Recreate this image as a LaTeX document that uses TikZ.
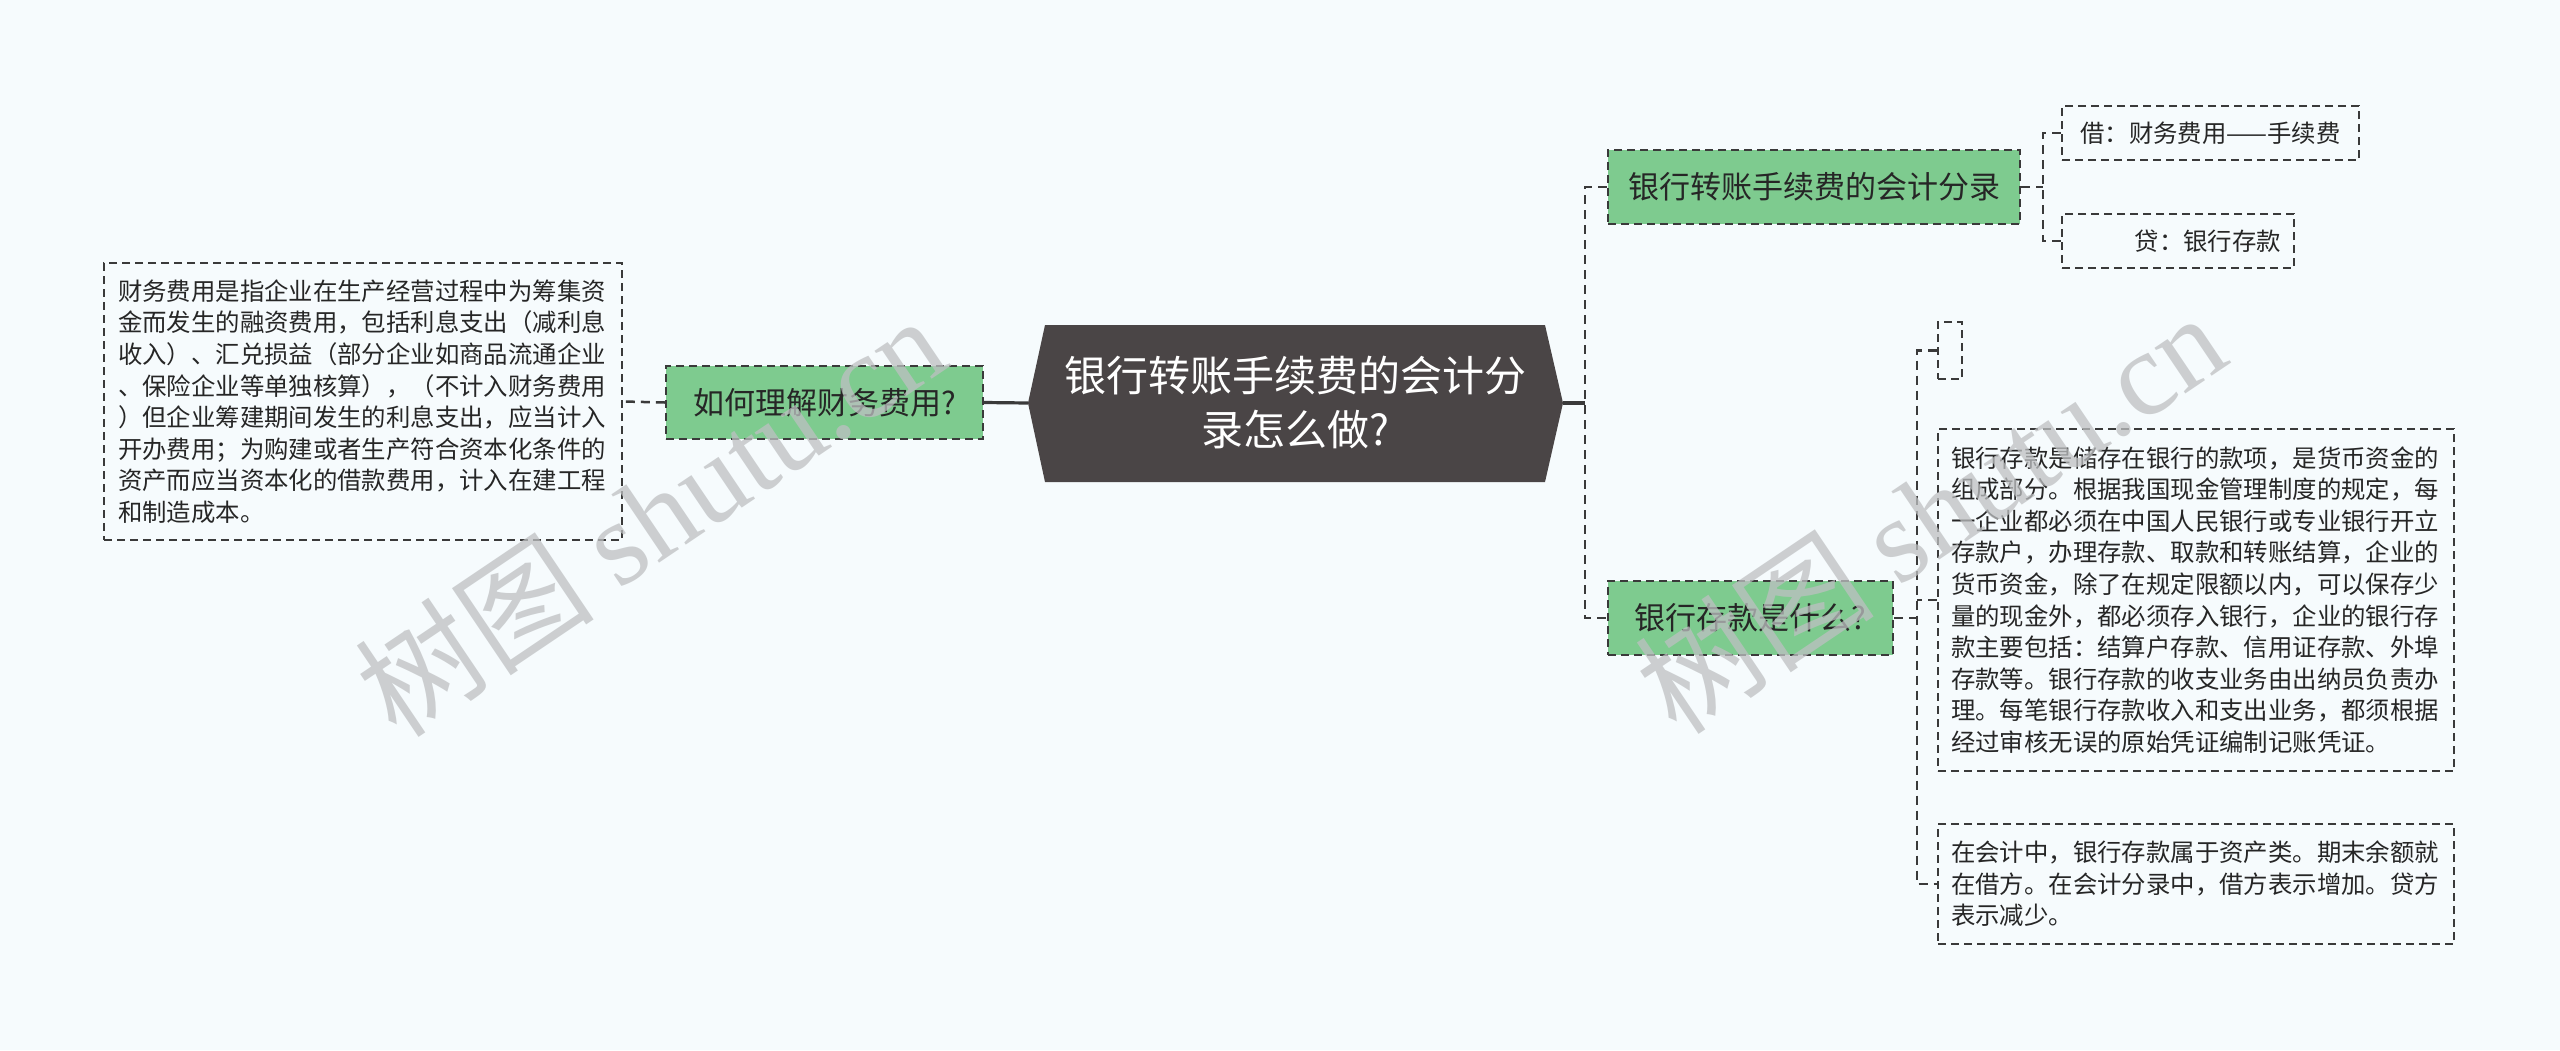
\documentclass[tikz,border=0pt]{standalone}
\usepackage{fontspec}
\setmainfont{Noto Sans CJK SC}
\newfontfamily\wmlatin{Liberation Serif}
\usetikzlibrary{calc}
\definecolor{bgc}{RGB}{246,251,253}
\definecolor{linec}{RGB}{58,58,58}
\definecolor{hexc}{RGB}{74,69,70}
\definecolor{topicg}{RGB}{126,203,143}
\definecolor{txtc}{RGB}{38,38,38}
\definecolor{wmc}{RGB}{190,192,194}
\tikzset{
  conn/.style={draw=linec, line width=1.25pt, dash pattern=on 4.5pt off 3pt},
  solidconn/.style={draw=linec, line width=1.6pt},
  topic/.style={draw=linec, fill=topicg, line width=1.1pt, dash pattern=on 4pt off 2.5pt,
    text=txtc, font=\fontsize{15.5pt}{18pt}\selectfont, inner sep=0pt},
  leaf/.style={draw=linec, line width=1.1pt, dash pattern=on 4pt off 2.5pt,
    text=txtc, font=\fontsize{12.2pt}{15.8pt}\selectfont, inner sep=0pt, align=left},
  wm/.style={text=wmc, opacity=0.75, rotate=34, font=\fontsize{60pt}{60pt}\selectfont}
}
\begin{document}
\begin{tikzpicture}[x=0.5pt,y=-0.5pt]
\useasboundingbox (0,0) rectangle (2560,1050);
\fill[bgc] (0,0) rectangle (2560,1050);

% root hexagon
\coordinate (rootL) at (1028,403);
\coordinate (rootR) at (1563,403);
\fill[hexc] (rootL) -- (1045,325) -- (1545,325) -- (rootR) -- (1545,482) -- (1045,482) -- cycle;
\node[text=white, align=center, font=\fontsize{21pt}{27pt}\selectfont, inner sep=0pt] (root) at (1295,402)
  {银行转账手续费的会计分\\录怎么做?};

% left branch
\node[topic, minimum width=158.5pt, minimum height=36.5pt] (leftq) at (824.5,402.5) {如何理解财务费用?};
\node[leaf, text width=245pt, minimum width=259pt, minimum height=138.5pt] (lefttext) at (363,401.5)
  {财务费用是指企业在生产经营过程中为筹集资\\
   金而发生的融资费用，包括利息支出（减利息\\
   收入）、汇兑损益（部分企业如商品流通企业\\
   、保险企业等单独核算），（不计入财务费用\\
   ）但企业筹建期间发生的利息支出，应当计入\\
   开办费用；为购建或者生产符合资本化条件的\\
   资产而应当资本化的借款费用，计入在建工程\\
   和制造成本。};

% right branch topics
\node[topic, minimum width=206pt, minimum height=37pt] (n1) at (1814,187) {银行转账手续费的会计分录};
\node[topic, minimum width=142.5pt, minimum height=37pt] (n2) at (1750.5,618) {银行存款是什么?};

% leaves of n1
\node[leaf, minimum width=148.5pt, minimum height=27pt, align=center] (jie) at (2210.5,133) {借：财务费用——手续费};
\node[leaf, text width=103pt, minimum width=116pt, minimum height=27pt, align=right] (dai) at (2178,241) {贷：银行存款};

% leaves of n2
\node[leaf, minimum width=12pt, minimum height=28.5pt] (empty) at (1950,350.5) {};
\node[leaf, text width=245pt, minimum width=258pt, minimum height=171pt] (bank) at (2196,600)
  {银行存款是储存在银行的款项，是货币资金的\\
   组成部分。根据我国现金管理制度的规定，每\\
   一企业都必须在中国人民银行或专业银行开立\\
   存款户，办理存款、取款和转账结算，企业的\\
   货币资金，除了在规定限额以内，可以保存少\\
   量的现金外，都必须存入银行，企业的银行存\\
   款主要包括：结算户存款、信用证存款、外埠\\
   存款等。银行存款的收支业务由出纳员负责办\\
   理。每笔银行存款收入和支出业务，都须根据\\
   经过审核无误的原始凭证编制记账凭证。};
\node[leaf, text width=245pt, minimum width=258pt, minimum height=60pt] (acct) at (2196,884)
  {在会计中，银行存款属于资产类。期末余额就\\
   在借方。在会计分录中，借方表示增加。贷方\\
   表示减少。};

% connectors
\draw[solidconn] (rootL) -- (leftq.east);
\draw[conn] (leftq.west) -- (lefttext.east);

\coordinate (jR) at (1585,403);
\draw[solidconn] (rootR) -- (jR);
\draw[conn] (n1.west) -- (n1.west -| jR) -- (n2.west -| jR) -- (n2.west);

\coordinate (j1) at (2043,187);
\draw[conn] (n1.east) -- (j1);
\draw[conn] (jie.west) -- (jie.west -| j1) -- (dai.west -| j1) -- (dai.west);

\coordinate (j2) at (1917,618);
\draw[conn] (n2.east) -- (j2);
\draw[conn] (empty.west) -- (empty.west -| j2) -- (acct.west -| j2) -- (acct.west);
\draw[conn] (bank.west) -- (bank.west -| j2);

% watermarks
\node[wm] (wmL) at (650,515) {树图 {\wmlatin shutu.cn}};
\node[wm] (wmR) at (1930,512) {树图 {\wmlatin shutu.cn}};
\end{tikzpicture}
\end{document}
